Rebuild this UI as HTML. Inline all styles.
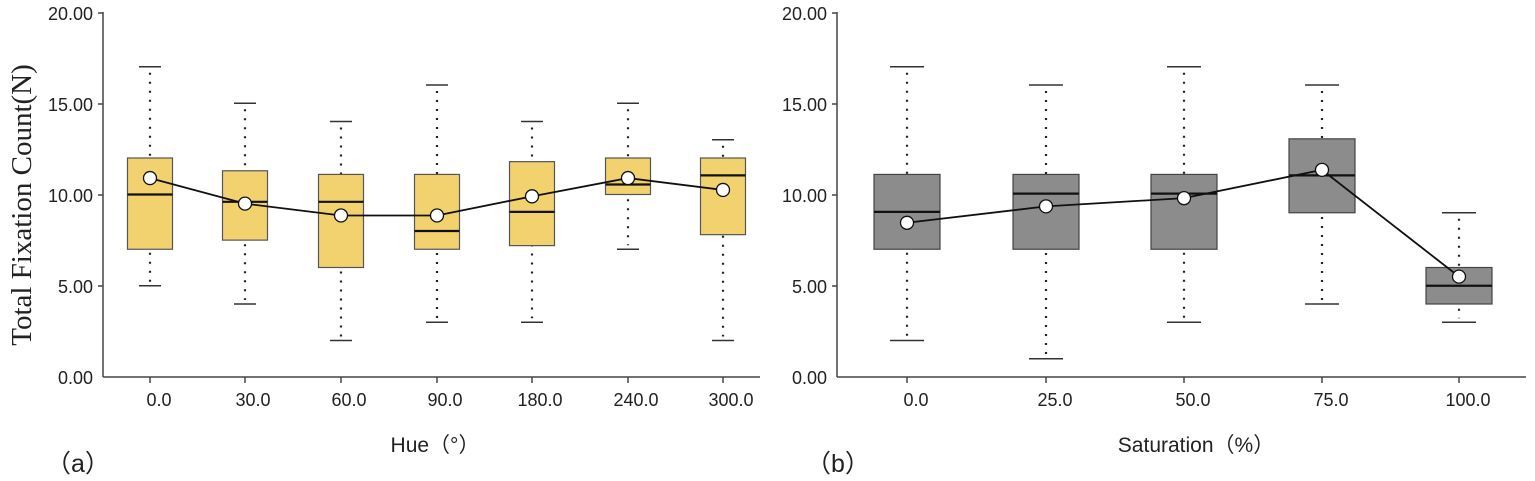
<!DOCTYPE html>
<html><head><meta charset="utf-8"><style>
body{margin:0;background:#fff}
svg{display:block}
text{font-family:"Liberation Sans","Noto Sans CJK SC",sans-serif;fill:#222}
</style></head><body>
<svg id="s" width="1535" height="481" xmlns="http://www.w3.org/2000/svg">
<g stroke="#444" stroke-width="1.5" fill="none">
<line x1="103" y1="12" x2="103" y2="377"/><line x1="103" y1="377" x2="760" y2="377"/>
<line x1="837" y1="12" x2="837" y2="377"/><line x1="837" y1="377" x2="1526" y2="377"/>
<line x1="98" y1="13" x2="103" y2="13"/><line x1="98" y1="104" x2="103" y2="104"/><line x1="98" y1="195" x2="103" y2="195"/><line x1="98" y1="286" x2="103" y2="286"/>
<line x1="832" y1="13" x2="837" y2="13"/><line x1="832" y1="104" x2="837" y2="104"/><line x1="832" y1="195" x2="837" y2="195"/><line x1="832" y1="286" x2="837" y2="286"/>
<line x1="150" y1="377" x2="150" y2="383"/><line x1="245" y1="377" x2="245" y2="383"/><line x1="341" y1="377" x2="341" y2="383"/><line x1="437" y1="377" x2="437" y2="383"/><line x1="532" y1="377" x2="532" y2="383"/><line x1="628" y1="377" x2="628" y2="383"/><line x1="723" y1="377" x2="723" y2="383"/>
<line x1="907" y1="377" x2="907" y2="383"/><line x1="1046" y1="377" x2="1046" y2="383"/><line x1="1184" y1="377" x2="1184" y2="383"/><line x1="1322" y1="377" x2="1322" y2="383"/><line x1="1459" y1="377" x2="1459" y2="383"/>
</g>
<text transform="translate(31,205) rotate(-90)" text-anchor="middle" style="font-family:'Liberation Serif',serif;font-size:29px">Total Fixation Count(N)</text>
<g font-size="18" text-anchor="end">
<text x="93" y="20">20.00</text><text x="93" y="111">15.00</text><text x="93" y="202">10.00</text><text x="93" y="293">5.00</text><text x="93" y="384">0.00</text>
<text x="827" y="20">20.00</text><text x="827" y="111">15.00</text><text x="827" y="202">10.00</text><text x="827" y="293">5.00</text><text x="827" y="384">0.00</text>
</g>
<g font-size="18" text-anchor="middle">
<text x="159" y="406">0.0</text><text x="253" y="406">30.0</text><text x="349" y="406">60.0</text><text x="445" y="406">90.0</text><text x="540" y="406">180.0</text><text x="636" y="406">240.0</text><text x="731" y="406">300.0</text>
<text x="916" y="406">0.0</text><text x="1055" y="406">25.0</text><text x="1193" y="406">50.0</text><text x="1331" y="406">75.0</text><text x="1468" y="406">100.0</text>
</g>
<text x="435" y="452" font-size="21" text-anchor="middle">Hue（°）</text>
<text x="1196" y="452" font-size="21" text-anchor="middle">Saturation（%）</text>
<text x="46" y="472" font-size="25">（a）</text>
<text x="806" y="472" font-size="25">（b）</text>
<g id="g"></g>
</svg>
<script>
var Y=function(v){return 377-v*18.25};
var g=document.getElementById('g'),h='';
function panel(xs,d,hw,cw,fill,stroke){
 var pts=[];
 d.forEach(function(r,i){var x=xs[i];
  h+='<line x1="'+(x-cw)+'" x2="'+(x+cw)+'" y1="'+Y(r[0])+'" y2="'+Y(r[0])+'" stroke="#333" stroke-width="1.5"/>';
  h+='<line x1="'+(x-cw)+'" x2="'+(x+cw)+'" y1="'+Y(r[1])+'" y2="'+Y(r[1])+'" stroke="#333" stroke-width="1.5"/>';
  h+='<line x1="'+x+'" x2="'+x+'" y1="'+(Y(r[1])+6)+'" y2="'+(Y(r[0])-4)+'" stroke="#222" stroke-width="2.2" stroke-dasharray="2 7"/>';
  h+='<rect x="'+(x-hw)+'" y="'+Y(r[3])+'" width="'+(2*hw)+'" height="'+(Y(r[2])-Y(r[3]))+'" fill="'+fill+'" stroke="'+stroke+'" stroke-width="1.2"/>';
  h+='<line x1="'+(x-hw)+'" x2="'+(x+hw)+'" y1="'+Y(r[4])+'" y2="'+Y(r[4])+'" stroke="#111" stroke-width="2.2"/>';
  pts.push(x+','+Y(r[5]));});
 h+='<polyline points="'+pts.join(' ')+'" fill="none" stroke="#111" stroke-width="1.8"/>';
 pts.forEach(function(p){var a=p.split(',');h+='<circle cx="'+a[0]+'" cy="'+a[1]+'" r="6.5" fill="#fff" stroke="#111" stroke-width="1.3"/>';});
}
panel([150,245,341,437,532,628,723],[[5,17,7,12,10,10.9],[4,15,7.5,11.3,9.6,9.5],[2,14,6,11.1,9.6,8.85],[3,16,7,11.1,8,8.85],[3,14,7.2,11.8,9.05,9.9],[7,15,10,12,10.55,10.9],[2,13,7.8,12,11.05,10.25]],22.5,11,'#f2d26e','#555');
panel([907,1046,1184,1322,1459],[[2,17,7,11.1,9.05,8.45],[1,16,7,11.1,10.05,9.35],[3,17,7,11.1,10.05,9.8],[4,16,9,13.05,11.05,11.35],[3,9,4,6,5,5.5]],33,17,'#8c8c8c','#444');
g.innerHTML=h;
</script>
</body></html>
